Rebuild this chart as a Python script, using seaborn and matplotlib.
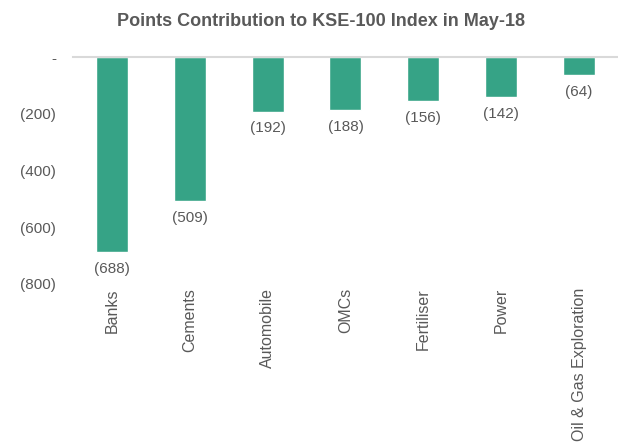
import matplotlib
matplotlib.use("Agg")
import matplotlib.pyplot as plt
import seaborn as sns
import pandas as pd

# Data
sectors = ['Banks', 'Cements', 'Automobile', 'OMCs', 'Fertiliser', 'Power',
           'Oil & Gas Exploration']
points = [-688, -509, -192, -188, -156, -142, -64]

df = pd.DataFrame({'Sector': sectors, 'Points': points})

sns.set_style("white")
plt.rcParams['font.family'] = ['Liberation Sans', 'DejaVu Sans']

txt_color = '#595959'
bar_color = '#36A386'

fig = plt.figure(figsize=(6.18, 4.47), dpi=100)
ax = fig.add_axes([0.118, 0.365, 0.882, 0.507])

sns.barplot(data=df, x='Sector', y='Points', color=bar_color, width=0.41,
            saturation=1, ax=ax)

def fmt(v):
    if v == 0:
        return '-'
    return f'({abs(v):,.0f})' if v < 0 else f'{v:,.0f}'

# value labels under each bar
for i, v in enumerate(points):
    ax.annotate(fmt(v), (i, v), xytext=(0, -7), textcoords='offset points',
                ha='center', va='top', fontsize=11, color=txt_color)

ax.set_ylim(-800, 0)
ax.set_xlim(-0.5, len(sectors) - 0.5)
yt = [0, -200, -400, -600, -800]
ax.set_yticks(yt)
ax.set_yticklabels([fmt(v) for v in yt], fontsize=11, color=txt_color)
ax.set_xticks(range(len(sectors)))
ax.set_xticklabels(sectors, rotation=90, fontsize=11.5, color=txt_color)
ax.tick_params(axis='both', length=0)
ax.tick_params(axis='y', pad=12)
ax.tick_params(axis='x', pad=3)
ax.set_xlabel('')
ax.set_ylabel('')

for s in ['left', 'right', 'bottom']:
    ax.spines[s].set_visible(False)
ax.spines['top'].set_color('#D9D9D9')
ax.spines['top'].set_linewidth(1.5)
ax.patch.set_alpha(0)

fig.text(0.52, 0.953, 'Points Contribution to KSE-100 Index in May-18',
         ha='center', va='center', fontsize=13, fontweight='bold', color=txt_color)

fig.savefig('out.png', dpi=100)
